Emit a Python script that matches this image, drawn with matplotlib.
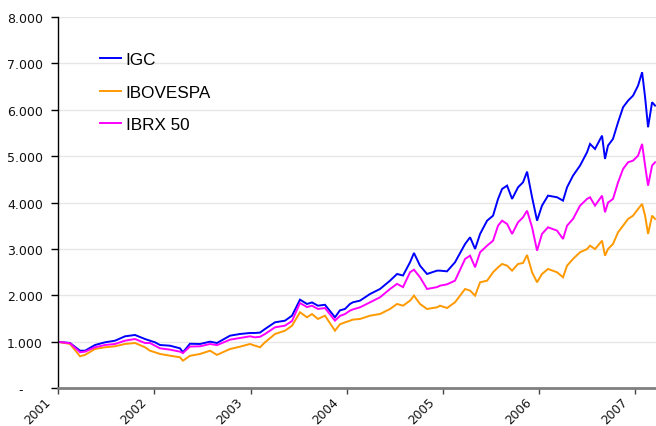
import matplotlib
matplotlib.use("Agg")
import matplotlib.pyplot as plt
import matplotlib.transforms as mtransforms
from matplotlib.ticker import FixedLocator, FuncFormatter

# decimal years
dates = [2001.000, 2001.122, 2001.226, 2001.278, 2001.382, 2001.486, 2001.590, 2001.694,
         2001.798, 2001.902, 2001.954, 2002.006, 2002.058, 2002.162, 2002.266, 2002.297,
         2002.370, 2002.475, 2002.579, 2002.651, 2002.787, 2002.891, 2002.995, 2003.047,
         2003.099, 2003.151, 2003.255, 2003.359, 2003.432, 2003.515, 2003.588, 2003.640,
         2003.702, 2003.775, 2003.879, 2003.931, 2003.983, 2004.035, 2004.066, 2004.140,
         2004.244, 2004.348, 2004.452, 2004.525, 2004.587, 2004.660, 2004.701, 2004.764,
         2004.837, 2004.941, 2004.972, 2005.045, 2005.128, 2005.233, 2005.285, 2005.337,
         2005.389, 2005.462, 2005.524, 2005.576, 2005.618, 2005.670, 2005.722, 2005.784,
         2005.836, 2005.878, 2005.930, 2005.982, 2006.033, 2006.096, 2006.190, 2006.252,
         2006.294, 2006.356, 2006.429, 2006.502, 2006.533, 2006.585, 2006.658, 2006.689,
         2006.720, 2006.772, 2006.825, 2006.877, 2006.929, 2006.981, 2007.033, 2007.075,
         2007.106, 2007.137, 2007.179, 2007.210]

igc = [1000, 976, 810, 810, 933, 991, 1026, 1120,
       1149, 1062, 1026, 991, 933, 918, 862, 776,
       960, 955, 1005, 976, 1134, 1170, 1192, 1192,
       1200, 1278, 1422, 1457, 1565, 1910, 1817, 1850,
       1780, 1800, 1530, 1680, 1709, 1817, 1853, 1889,
       2032, 2140, 2319, 2463, 2430, 2715, 2916, 2642,
       2463, 2535, 2535, 2520, 2715, 3110, 3254, 3002,
       3326, 3612, 3720, 4080, 4295, 4367, 4080, 4331,
       4439, 4668, 4116, 3612, 3935, 4151, 4116, 4043,
       4331, 4582, 4798, 5086, 5265, 5157, 5444, 4942,
       5229, 5373, 5733, 6056, 6198, 6306, 6522, 6810,
       6271, 5625, 6164, 6091]

ibovespa = [1000, 955, 690, 720, 847, 884, 905, 955,
            976, 884, 810, 776, 740, 703, 668, 595,
            700, 740, 810, 720, 847, 897, 955, 918,
            884, 991, 1170, 1241, 1349, 1638, 1530, 1600,
            1494, 1565, 1241, 1380, 1420, 1457, 1480, 1494,
            1565, 1601, 1709, 1817, 1780, 1889, 1996, 1817,
            1709, 1745, 1780, 1730, 1853, 2140, 2104, 1996,
            2284, 2319, 2500, 2607, 2679, 2642, 2535, 2679,
            2700, 2873, 2500, 2284, 2463, 2571, 2500, 2392,
            2642, 2787, 2931, 3000, 3073, 3000, 3181, 2858,
            3000, 3110, 3362, 3504, 3649, 3720, 3864, 3972,
            3720, 3326, 3720, 3649]

ibrx50 = [1000, 970, 776, 790, 884, 933, 955, 1026,
          1062, 976, 976, 918, 862, 833, 790, 760,
          900, 905, 955, 930, 1048, 1084, 1120, 1098,
          1110, 1170, 1314, 1350, 1450, 1838, 1750, 1780,
          1709, 1730, 1457, 1560, 1600, 1673, 1700, 1745,
          1853, 1961, 2140, 2250, 2180, 2500, 2556, 2392,
          2140, 2180, 2211, 2240, 2319, 2787, 2858, 2607,
          2931, 3073, 3181, 3504, 3612, 3541, 3326, 3577,
          3685, 3827, 3469, 2966, 3326, 3469, 3397, 3218,
          3504, 3649, 3935, 4080, 4116, 3935, 4151, 3793,
          4000, 4080, 4439, 4726, 4870, 4906, 5013, 5265,
          4798, 4366, 4800, 4870]

series_names = ["IGC", "IBOVESPA", "IBRX 50"]
year_ticks = [2001, 2002, 2003, 2004, 2005, 2006, 2007]
y_ticks = [0, 1000, 2000, 3000, 4000, 5000, 6000, 7000, 8000]

plt.rcParams['font.family'] = ['Liberation Sans', 'DejaVu Sans']

fig = plt.figure(figsize=(6.56, 4.27), dpi=100)
ax = fig.add_axes([58.3 / 656, 37.7 / 427, (656 - 58.3) / 656, (389.3 - 18) / 427])

colors = ["#0000FF", "#FF9900", "#FF00FF"]
for vals, name, c in zip([igc, ibovespa, ibrx50], series_names, colors):
    ax.plot(dates, vals, color=c, lw=1.4, label=name, solid_joinstyle='miter')

ax.set_xlim(2001.0, 2001.0 + (656 - 58.3) / 96.1)
ax.set_ylim(0, 8000)

ax.yaxis.set_major_locator(FixedLocator(y_ticks))
def yfmt(v, pos):
    if v == 0:
        return "-     "
    return f"{int(v):,}".replace(",", ".")
ax.yaxis.set_major_formatter(FuncFormatter(yfmt))
ax.xaxis.set_major_locator(FixedLocator(year_ticks))
ax.set_xticklabels([str(y) for y in year_ticks])

ax.grid(axis='y', color='#e6e6e6', lw=1.0)
ax.set_axisbelow(True)
for s in ['top', 'right']:
    ax.spines[s].set_visible(False)
ax.spines['left'].set_color('black')
ax.spines['left'].set_linewidth(1.0)
ax.spines['bottom'].set_color('#808080')
ax.spines['bottom'].set_linewidth(2.0)

ax.tick_params(axis='y', direction='out', length=5, width=1, color='black',
               pad=6, labelcolor='#111111')
ax.tick_params(axis='x', direction='out', length=4, width=1, color='#444444',
               pad=0.5, labelcolor='#111111')
for lab in ax.get_yticklabels():
    lab.set_fontfamily('DejaVu Sans')
    lab.set_fontsize(9)
offset = mtransforms.ScaledTranslation(-5 / 100, 0, fig.dpi_scale_trans)
for lab in ax.get_xticklabels():
    lab.set_fontfamily('DejaVu Sans')
    lab.set_fontsize(8.8)
    lab.set_rotation(45)
    lab.set_ha('right')
    lab.set_va('top')
    lab.set_transform(lab.get_transform() + offset)

leg = fig.legend(loc='upper left', bbox_to_anchor=(100 / 656, 1 - 53 / 427),
                 frameon=False, fontsize=12.3, handlelength=1.2, handletextpad=0.3,
                 labelspacing=1.03, borderpad=0, borderaxespad=0)

fig.savefig("out.png", dpi=100)
